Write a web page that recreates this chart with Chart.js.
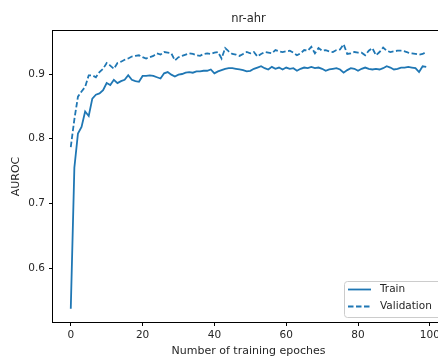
<!DOCTYPE html>
<html>
<head>
<meta charset="utf-8">
<script src="https://cdn.jsdelivr.net/npm/chart.js@4/dist/chart.umd.min.js"></script>
<style>
  html, body { margin: 0; padding: 0; background: #fff; overflow: hidden; }
  #wrap { width: 438px; height: 358px; overflow: hidden; }
</style>
</head>
<body>
<div id="wrap"><canvas id="grafico" width="460" height="358"></canvas></div>
<script>
// dati
const titolo = 'nr-ahr';
const epoche = Array.from({length: 100}, (_, i) => i);
const train = [
  0.537, 0.755, 0.808, 0.818, 0.842, 0.835, 0.862, 0.868, 0.870, 0.875,
  0.886, 0.883, 0.891, 0.886, 0.889, 0.891, 0.898, 0.891, 0.889, 0.888,
  0.897, 0.897, 0.898, 0.897, 0.895, 0.893, 0.901, 0.903, 0.899, 0.896,
  0.899, 0.900, 0.902, 0.903, 0.902, 0.904, 0.904, 0.905, 0.905, 0.907,
  0.901, 0.904, 0.906, 0.908, 0.909, 0.909, 0.908, 0.907, 0.906, 0.904,
  0.905, 0.908, 0.910, 0.912, 0.909, 0.907, 0.911, 0.908, 0.910, 0.907,
  0.910, 0.908, 0.909, 0.905, 0.908, 0.910, 0.909, 0.911, 0.909, 0.910,
  0.908, 0.905, 0.907, 0.908, 0.909, 0.907, 0.902, 0.906, 0.909, 0.908,
  0.905, 0.908, 0.910, 0.908, 0.907, 0.908, 0.907, 0.909, 0.912, 0.910,
  0.907, 0.908, 0.910, 0.910, 0.911, 0.910, 0.909, 0.903, 0.912, 0.911
];
const validation = [
  0.787, 0.830, 0.865, 0.873, 0.880, 0.898, 0.898, 0.895, 0.903, 0.908,
  0.917, 0.913, 0.908, 0.917, 0.919, 0.922, 0.924, 0.927, 0.928, 0.929,
  0.926, 0.924, 0.926, 0.928, 0.932, 0.930, 0.934, 0.933, 0.932, 0.921,
  0.926, 0.928, 0.930, 0.932, 0.931, 0.929, 0.928, 0.931, 0.932, 0.931,
  0.933, 0.934, 0.924, 0.940, 0.935, 0.931, 0.930, 0.928, 0.931, 0.934,
  0.932, 0.934, 0.927, 0.931, 0.934, 0.933, 0.932, 0.937, 0.935, 0.934,
  0.935, 0.936, 0.933, 0.929, 0.932, 0.937, 0.936, 0.942, 0.932, 0.940,
  0.936, 0.937, 0.935, 0.934, 0.937, 0.938, 0.946, 0.931, 0.932, 0.934,
  0.933, 0.933, 0.929, 0.936, 0.940, 0.929, 0.934, 0.941, 0.936, 0.934,
  0.935, 0.936, 0.936, 0.935, 0.933, 0.932, 0.931, 0.930, 0.931, 0.934
];
const tickX = [0, 20, 40, 60, 80, 100];
const tickY = [0.6, 0.7, 0.8, 0.9];

const blu = '#1f77b4';
const testo = '#262626';
const font = 'DejaVu Sans';

// titolo, cornice e legenda come in matplotlib
const extra = {
  id: 'extra',
  afterDraw(chart) {
    const ctx = chart.ctx;
    const a = chart.chartArea;
    ctx.save();
    ctx.strokeStyle = '#000';
    ctx.lineWidth = 1;
    ctx.strokeRect(a.left - 0.5, a.top - 0.5, a.right - a.left + 1, a.bottom - a.top + 1);

    ctx.fillStyle = testo;
    ctx.font = '11.5px "' + font + '"';
    ctx.textAlign = 'center';
    ctx.textBaseline = 'middle';
    ctx.fillText(titolo, (a.left + a.right) / 2, 19);

    // legenda in basso a destra
    const bx = 344, by = 281, bw = 100, bh = 36;
    ctx.fillStyle = 'rgba(255,255,255,0.8)';
    ctx.strokeStyle = '#cccccc';
    ctx.beginPath();
    ctx.roundRect(bx + 0.5, by + 0.5, bw, bh, 3);
    ctx.fill();
    ctx.stroke();
    const voci = chart.data.datasets;
    voci.forEach((ds, i) => {
      const y = by + 8.5 + i * 17;
      ctx.strokeStyle = ds.borderColor;
      ctx.lineWidth = ds.borderWidth;
      ctx.setLineDash(ds.borderDash || []);
      ctx.beginPath();
      ctx.moveTo(bx + 4, y);
      ctx.lineTo(bx + 27, y);
      ctx.stroke();
      ctx.setLineDash([]);
      ctx.fillStyle = testo;
      ctx.font = '10.5px "' + font + '"';
      ctx.textAlign = 'left';
      ctx.fillText(ds.label, bx + 36, y);
    });
    ctx.restore();
  }
};

new Chart(document.getElementById('grafico'), {
  type: 'line',
  data: {
    labels: epoche,
    datasets: [{
      label: 'Train',
      data: train,
      borderColor: blu,
      borderWidth: 1.8,
      pointRadius: 0,
      tension: 0
    }, {
      label: 'Validation',
      data: validation,
      borderColor: blu,
      borderWidth: 1.8,
      borderDash: [5.5, 2.5],
      pointRadius: 0,
      tension: 0
    }]
  },
  options: {
    responsive: false,
    animation: false,
    devicePixelRatio: 1,
    layout: { padding: { top: 31, right: 16, left: 0, bottom: 0 } },
    plugins: { legend: { display: false }, tooltip: { enabled: false } },
    scales: {
      x: {
        type: 'linear',
        min: -4.95,
        max: 103.95,
        afterFit(s) { s.height = 36; },
        afterBuildTicks(s) { s.ticks = tickX.map(v => ({value: v})); },
        grid: { display: true, drawOnChartArea: false, drawTicks: true, tickLength: 4, color: '#000' },
        border: { display: false },
        ticks: {
          padding: 3,
          color: testo,
          font: { family: font, size: 10.5 },
          maxRotation: 0,
          callback: v => String(v)
        },
        title: {
          display: true,
          text: 'Number of training epoches',
          color: testo,
          font: { family: font, size: 11 },
          padding: { top: 0, bottom: 0 }
        }
      },
      y: {
        min: 0.5165,
        max: 0.9665,
        afterFit(s) { s.width = 53; },
        afterBuildTicks(s) { s.ticks = tickY.map(v => ({value: v})); },
        grid: { display: true, drawOnChartArea: false, drawTicks: true, tickLength: 4, color: '#000' },
        border: { display: false },
        ticks: {
          padding: 4,
          color: testo,
          font: { family: font, size: 10.5 },
          callback: v => v.toFixed(1)
        },
        title: {
          display: true,
          text: 'AUROC',
          color: testo,
          font: { family: font, size: 11 },
          padding: { top: 10, bottom: 0 }
        }
      }
    }
  },
  plugins: [extra]
});
</script>
</body>
</html>
